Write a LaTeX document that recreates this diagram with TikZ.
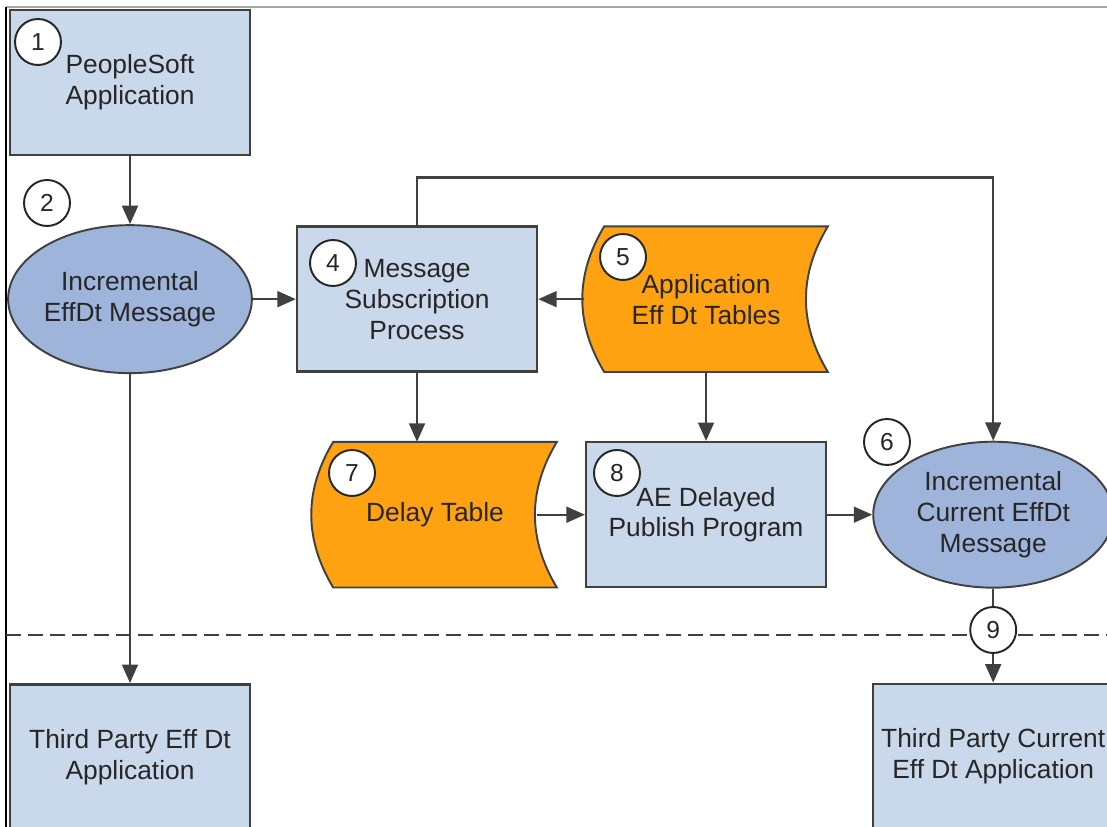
\documentclass[tikz,border=0pt]{standalone}
\usepackage{fontspec}
\setmainfont{Liberation Sans}
\usetikzlibrary{arrows.meta,positioning,shapes.geometric,backgrounds}

\definecolor{boxblue}{RGB}{202,216,235}
\definecolor{ovalblue}{RGB}{158,180,218}
\definecolor{taporange}{RGB}{255,162,18}
\definecolor{edgegray}{RGB}{64,64,64}

\begin{document}
\begin{tikzpicture}[x=0.02cm,y=-0.02cm,
  every node/.style={font=\fontsize{15}{17.6}\selectfont,text=black!85,align=center},
  app/.style={rectangle,draw=edgegray,line width=1.4pt,fill=boxblue,
              minimum width=4.8cm,minimum height=2.9cm},
  msgoval/.style={ellipse,draw=edgegray,line width=1.1pt,fill=ovalblue,
                  minimum width=4.84cm,minimum height=2.96cm,inner sep=0pt},
  tabbox/.style={rectangle,minimum width=4.86cm,minimum height=2.9cm},
  tape/.style={draw=edgegray,line width=1.1pt,fill=taporange},
  num/.style={circle,draw=black!85,line width=1.1pt,fill=white,minimum size=0.92cm,
              inner sep=0pt,font=\fontsize{14}{14}\selectfont},
  arr/.style={-{Triangle[length=10.5pt,width=9pt]},line width=1.3pt,draw=edgegray},
  sepline/.style={dashed,dash pattern=on 0.3cm off 0.14cm,line width=1.7pt,draw=edgegray}
]
\useasboundingbox (0,0) rectangle (1107,827);
% frame
\draw[gray!70,line width=0.8pt] (6,7) -- (1107,7);
\draw[black,line width=0.8pt] (6,7) -- (6,827);
\draw[sepline] (6,635) -- (1107,635);

\node[app] (ps) at (130,82.5) {PeopleSoft\\Application};
\node[msgoval,below=1.36cm of ps] (incr) {Incremental\\EffDt Message};
\node[app,right=0.86cm of incr] (sub) {Message\\Subscription\\Process};
\node[tabbox,right=0.92cm of sub] (effdt) {Application\\Eff Dt Tables};
\node[app,below=1.38cm of effdt] (ae) {AE Delayed\\Publish Program};
\node[tabbox,left=0.56cm of ae] (delay) {Delay Table};
\node[msgoval,minimum width=4.8cm,minimum height=2.92cm,right=0.9cm of ae] (cur)
  {Incremental\\Current EffDt\\Message};
\node[app,below=6.18cm of incr] (tpeff) {Third Party Eff Dt\\Application};
\node[app,below=1.88cm of cur] (tpcur) {Third Party Current\\Eff Dt Application};

% table shapes
\begin{scope}[on background layer]
\foreach \t in {effdt,delay}
  \filldraw[tape] ([xshift=0.4cm]\t.north west) -- (\t.north east)
    to[bend right=31] (\t.south east)
    -- ([xshift=0.4cm]\t.south west)
    to[bend left=31] cycle;
\end{scope}

\draw[arr] (ps) -- (incr);
\draw[arr] (incr) -- (sub);
\draw[arr] (effdt) -- (sub);
\draw[arr] (sub.north) -- ++(0,-48) -| (cur.north);
\draw[arr] (sub) -- (sub |- delay.north);
\draw[arr] (effdt) -- (ae);
\draw[arr] ([xshift=-0.4cm]delay.east) -- (ae);
\draw[arr] (ae) -- (cur);
\draw[arr] (cur) -- (tpcur);
\draw[arr] (incr) -- (tpeff);

% step numbers
\node[num] (n1) at (38,42) {1};
\node[num] (n2) at (47,203) {2};
\node[num] (n4) at (333,263) {4};
\node[num] (n5) at (623,257) {5};
\node[num] (n6) at (887,442) {6};
\node[num] (n7) at (352,473) {7};
\node[num] (n8) at (617,473) {8};
\node[num] at (cur.south |- 0,630) (n9) {9};
\end{tikzpicture}
\end{document}
